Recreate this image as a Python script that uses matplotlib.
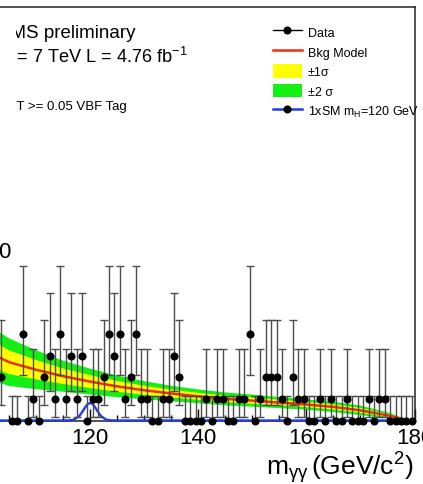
import numpy as np
import matplotlib
matplotlib.use("Agg")
import matplotlib.pyplot as plt
from matplotlib.lines import Line2D
from matplotlib.patches import Patch
from matplotlib.transforms import Bbox, TransformedBbox

plt.rcParams['font.family'] = ['Liberation Sans', 'DejaVu Sans']
plt.rcParams['mathtext.fontset'] = 'custom'
plt.rcParams['mathtext.rm'] = 'Liberation Sans'
plt.rcParams['mathtext.it'] = 'Liberation Sans:italic'
plt.rcParams['mathtext.bf'] = 'Liberation Sans:bold'

# ---- observed events per 1 GeV bin (bin centres) ----
bin_centers = np.arange(103.5, 180.0, 1.0)
counts = [2, np.nan, 0, 0, 4, 0, 1, 0, 2, 3,
          1, 4, 1, 3, 1, 3, 0, 1, 1, 2,
          4, 3, 4, 1, 2, 4, 1, 1, 0, 0,
          1, 1, 3, 2, 0, 0, 0, 0, 1, 0,
          1, 1, 0, 0, 1, 1, 4, 0, 1, 2,
          2, 2, 1, 0, 2, 1, 1, 0, 0, 1,
          0, 1, 0, 0, 1, 0, 0, 0, 1, 0,
          1, 1, 0, 0, 0, 0, 0]

# Poisson 68% intervals (lower, upper) for small counts
poisson_lo = {0: 0.0, 1: 0.827, 2: 1.292, 3: 1.633, 4: 1.914}
poisson_hi = {0: 1.148, 1: 2.299, 2: 2.637, 3: 2.918, 4: 3.162}

# ---- background model and its uncertainty ----
bkg_mass = [100, 105, 110, 115, 120, 125, 130, 135, 140, 145, 150, 155, 160, 165, 170, 175, 178, 180]
bkg_val = [3.30, 2.70, 2.35, 2.05, 1.80, 1.58, 1.40, 1.25, 1.12, 1.00, 0.92, 0.83, 0.74, 0.63, 0.47, 0.24, 0.05, -0.08]
bkg_sig1 = [0.65, 0.55, 0.45, 0.36, 0.30, 0.25, 0.21, 0.18, 0.16, 0.15, 0.14, 0.13, 0.12, 0.12, 0.11, 0.07, 0.03, 0.02]

# ---- 1xSM signal, mH = 120 GeV ----
sig_mass = [100, 115, 116, 117, 118, 118.5, 119, 119.5, 120, 120.5, 121, 121.5, 122, 123, 124, 125, 180]
sig_val = [0, 0, 0.003, 0.036, 0.205, 0.38, 0.58, 0.75, 0.82, 0.75, 0.58, 0.38, 0.205, 0.036, 0.003, 0, 0]

x_ticks = [100, 120, 140, 160, 180]

W, H = 423, 485
fig = plt.figure(figsize=(W / 100, H / 100), dpi=100)

def fx(px):
    return px / W

def fy(py):
    return 1 - py / H

ax_l, ax_r, ax_t, ax_b = -18.0, 414.5, 8.0, 421.5
ax = fig.add_axes([fx(ax_l), fy(ax_b), (ax_r - ax_l) / W, (ax_b - ax_t) / H])
ax.set_xlim(100, 180)
ax.set_ylim(0, 19.14)

GREEN = '#14f014'
YELLOW = '#ffff00'
RED = '#f52a0a'
BLUE = '#1e3ce6'

bm = np.array(bkg_mass, float)
bv = np.array(bkg_val)
bs = np.array(bkg_sig1)
ax.fill_between(bm, bv - 2 * bs, bv + 2 * bs, color=GREEN, lw=0, zorder=1)
ax.fill_between(bm, bv - bs, bv + bs, color=YELLOW, lw=0, zorder=2)
ax.plot(bm, bv, color=RED, lw=1.8, zorder=3)

ax.plot(sig_mass, sig_val, color=BLUE, lw=1.7, zorder=4, clip_on=False)

cnt = np.array(counts, float)
ok = ~np.isnan(cnt)
xc = bin_centers[ok]
yc = cnt[ok]
lo = np.array([poisson_lo[int(v)] for v in yc])
hi = np.array([poisson_hi[int(v)] for v in yc])
eb = ax.errorbar(xc, yc, yerr=[lo, hi], fmt='o', color='k', ms=4.8,
                 ecolor='0.3', elinewidth=1.0, capsize=2.6, capthick=1.0,
                 zorder=5)
eb.lines[0].set_clip_on(False)

for s in ax.spines.values():
    s.set_color('#222222')
    s.set_linewidth(1.1)

ax.set_xticks(x_ticks)
ax.set_xticks(np.arange(100, 181, 5), minor=True)
ax.tick_params(axis='x', which='major', direction='in', length=9, width=1.0,
               labelsize=16, pad=5)
ax.tick_params(axis='x', which='minor', direction='in', length=4.5, width=1.0)
ax.set_yticks([])

fig.text(fx(413.5), fy(475.5), r'm$_{\mathrm{\gamma\gamma}}\,$(GeV/c$^{2}$)', fontsize=19,
         ha='right', va='baseline')

fig.text(fx(10.5), fy(252), '0', fontsize=16, ha='right', va='center')

# header block, cut on its left side by the pad edge
pad_clip = TransformedBbox(Bbox([[fx(15.5), 0.0], [1.0, 1.0]]), fig.transFigure)
t1 = fig.text(fx(135.5), fy(37.7), 'CMS preliminary', fontsize=13.5,
              ha='right', va='baseline')
t2 = fig.text(fx(188), fy(63.3), r'$\sqrt{s}$ = 7 TeV L = 4.76 fb$^{-1}$', fontsize=13.1,
              ha='right', va='baseline')
t3 = fig.text(fx(127), fy(110), 'BDT >= 0.05 VBF Tag', fontsize=9.5,
              ha='right', va='baseline')
for t in (t1, t2, t3):
    t.set_clip_box(pad_clip)
    t.set_clip_on(True)

handles = [
    Line2D([], [], color='k', marker='o', ms=4.8, lw=1.0),
    Line2D([], [], color=RED, lw=1.8),
    Patch(facecolor=YELLOW, edgecolor='none'),
    Patch(facecolor=GREEN, edgecolor='none'),
    Line2D([], [], color=BLUE, lw=1.8, marker='o', ms=4.8, mfc='k', mec='k'),
]
labels = ['Data', 'Bkg Model', '±1σ', '±2 σ', r'1xSM m$_{\mathrm{H}}$=120 GeV']
fig.legend(handles, labels, loc='upper left', bbox_to_anchor=(fx(273), fy(26)),
           bbox_transform=fig.transFigure, frameon=False, fontsize=9,
           handlelength=2.3, handleheight=1.28, handletextpad=0.5,
           labelspacing=0.46, borderpad=0, borderaxespad=0)

fig.savefig('out.png', dpi=100)
